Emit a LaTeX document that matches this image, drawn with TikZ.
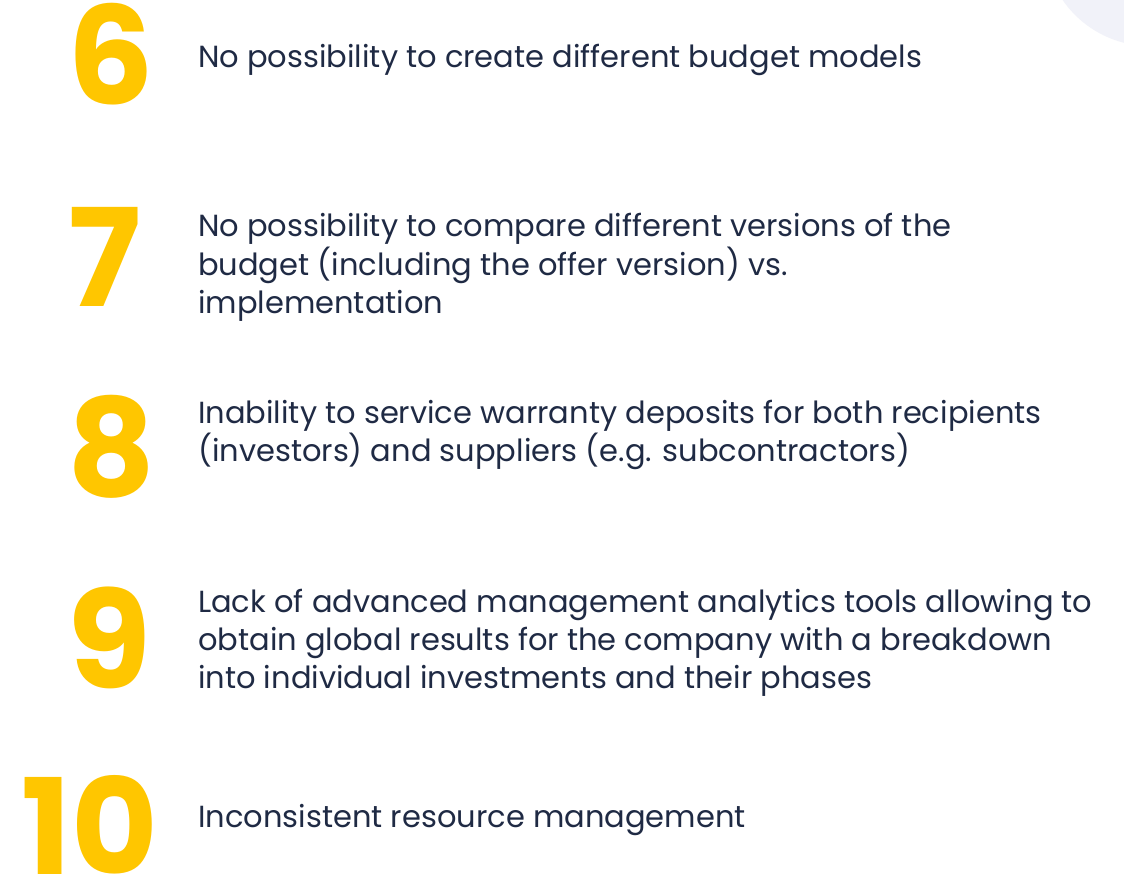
\documentclass[tikz,border=0pt]{standalone}
\usepackage{fontspec}
\setmainfont{Poppins}
\definecolor{numyellow}{HTML}{FFC600}
\definecolor{txtnavy}{HTML}{1F2A44}
\definecolor{lav}{HTML}{F1F2F9}
\begin{document}
\begin{tikzpicture}[x=1pt,y=-1pt,
  numstyle/.style={inner sep=0pt,anchor=base west,text=numyellow,font=\fontsize{136}{136}\selectfont\bfseries},
  itemtext/.style={inner sep=0pt,anchor=base west,text=txtnavy,align=left,font=\fontsize{30.5}{38}\selectfont}]
\useasboundingbox[fill=white] (0,0) rectangle (1124,878);
\begin{scope}
\clip (0,0) rectangle (1124,878);
\fill[lav] (1150,-60) circle (106);
\end{scope}
\node[numstyle] (n6) at (67,104) {6};
\node[numstyle] (n7) at (68,306) {7};
\node[numstyle] (n8) at (67,496) {8};
\node[numstyle] (n9) at (67,688) {9};
\node[numstyle,font=\fontsize{133}{133}\selectfont\bfseries] (n10) at (21,874) {10};
\node[itemtext] (t6) at (198,67) {No possibility to create different budget models};
\node[itemtext] (t7) at (198,236) {No possibility to compare different versions of the};
\node[itemtext] (t7b) at (198,275) {budget (including the offer version) vs.};
\node[itemtext] (t7c) at (198,313) {implementation};
\node[itemtext] (t8) at (198,423) {Inability to service warranty deposits for both recipients};
\node[itemtext] (t8b) at (198,461) {(investors) and suppliers (e.g. subcontractors)};
\node[itemtext] (t9) at (198,612) {Lack of advanced management analytics tools allowing to};
\node[itemtext] (t9b) at (198,650) {obtain global results for the company with a breakdown};
\node[itemtext] (t9c) at (198,688) {into individual investments and their phases};
\node[itemtext] (t10) at (198,827) {Inconsistent resource management};
\end{tikzpicture}
\end{document}
